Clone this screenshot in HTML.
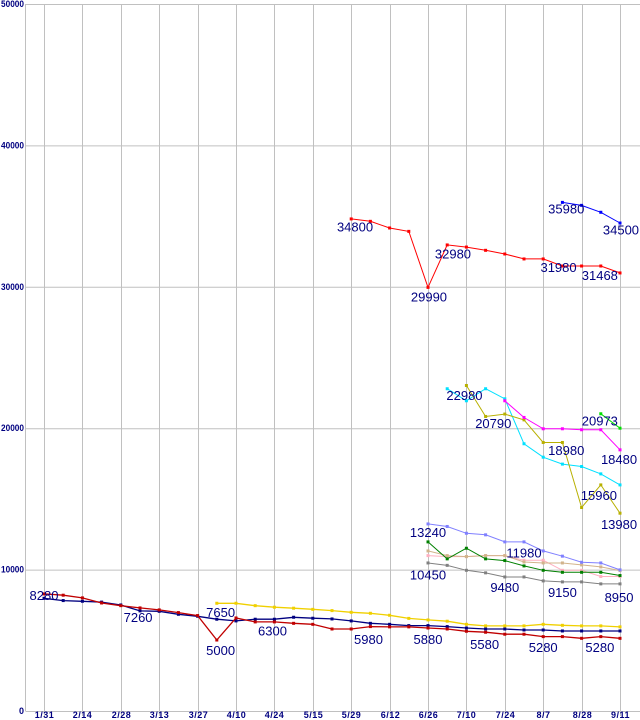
<!DOCTYPE html>
<html><head><meta charset="utf-8"><style>
body{margin:0;background:#fff;}
svg{display:block;font-family:"Liberation Sans",sans-serif;}
</style></head><body>
<svg id="chart" width="640" height="720" xmlns="http://www.w3.org/2000/svg">
<g id="grid"></g>
<g id="axes"></g>
<g id="series"></g>
<g id="labels"></g>
</svg>
<script>
const xTickLabels=["1/31","2/14","2/28","3/13","3/27","4/10","4/24","5/15","5/29","6/12","6/26","7/10","7/24","8/7","8/28","9/11"];
const yTicks=[0,10000,20000,30000,40000,50000];
const redLow=[8280,8190,8000,7640,7450,7290,7150,6960,6750,5020,6580,6300,6300,6200,6130,5800,5800,5970,5950,5950,5870,5800,5640,5570,5430,5430,5260,5260,5140,5260,5140];
const navyLow=[7970,7810,7760,7700,7500,7080,7050,6840,6700,6490,6370,6490,6490,6630,6560,6510,6370,6200,6130,6040,6040,5970,5870,5800,5800,5730,5730,5660,5660,5660,5660];
const yellow=[null,null,null,null,null,null,null,null,null,7620,7620,7450,7340,7270,7190,7100,6980,6910,6770,6550,6440,6350,6130,6020,6020,6020,6130,6060,6020,6020,5950];
const slateblue=[...Array(20).fill(null),13230,13050,12570,12460,11960,11960,11320,10950,10520,10470,9980];
const green=[...Array(20).fill(null),11960,10760,11510,10760,10640,10260,9950,9810,9810,9810,9580];
const tan=[...Array(20).fill(null),11320,10990,10920,10990,10990,10540,10470,10470,10330,10190,9930];
const pink=[...Array(20).fill(null),10990,10920,10920,10990,10990,10660,10660,9950,9950,9510,9510];
const gray=[...Array(20).fill(null),10470,10300,9950,9770,9480,9480,9200,9130,9130,8990,8990];
const cyan=[...Array(21).fill(null),22790,21940,22790,22080,18900,17950,17460,17290,16770,15990];
const olive=[...Array(22).fill(null),23020,20830,21000,20590,18990,18990,14390,15990,13990];
const magenta=[...Array(24).fill(null),21940,20760,19960,19960,19890,19890,18470];
const lime=[...Array(29).fill(null),21020,20000];
const redTop=[...Array(16).fill(null),34800,34630,34160,33920,29960,32960,32810,32580,32320,31970,31970,31470,31470,31470,30980];
const blueTop=[...Array(27).fill(null),35970,35760,35270,34510];
const labelText=["8280","7260","7650","5000","6300","34800","29990","32980","31980","35980","34500","31468","22980","20790","18980","20973","18480","15960","13980","13240","11980","10450","9480","9150","8950","5980","5880","5580","5280","5280"];
const labelIdx=[0,4.9,9.2,9.2,11.9,16.2,20.05,21.3,26.8,27.2,30.05,28.95,21.9,23.4,27.2,28.95,29.95,28.9,29.95,20,25,20,24,27,29.95,16.9,20,22.95,26,28.95];
const labelVal=[8560,7000,7350,4660,6030,34630,29670,32710,31760,35880,34420,31180,22710,20730,18800,20900,18180,15640,13590,13000,11570,10000,9140,8780,8420,5450,5450,5100,4890,4890];

const X0=44,DX=19.2,Y0=711,KY=(711-4)/50000;
const xs=i=>X0+i*DX;
const ys=v=>Y0-v*KY;
const NS="http://www.w3.org/2000/svg";
function mk(tag,attrs,parent){const e=document.createElementNS(NS,tag);for(const k in attrs)e.setAttribute(k,attrs[k]);parent.appendChild(e);return e;}
const grid=document.getElementById('grid'),axes=document.getElementById('axes'),ser=document.getElementById('series'),lab=document.getElementById('labels');
yTicks.forEach(v=>{
  const l=mk('line',{x1:25.5,x2:640,y1:ys(v)+0.5,y2:ys(v)+0.5,stroke:'#c0c0c0','stroke-width':1},grid);
  
  
  const s=String(v);
  const attrs={x:24,y:ys(v)+3,'text-anchor':'end','font-size':9,'font-weight':'bold',fill:'#000080'};
  if(s.length>1){attrs.textLength=Math.round(s.length*4.6);attrs.lengthAdjust='spacingAndGlyphs';}
  const t=mk('text',attrs,axes);
  t.textContent=s;
  
  
});
const la=mk('line',{x1:25.5,x2:25.5,y1:4,y2:711,stroke:'#c0c0c0'},grid);


xTickLabels.forEach((s,k)=>{
  const x=Math.round(xs(k*2))+0.5;
  const l=mk('line',{x1:x,x2:x,y1:4,y2:716,stroke:'#c0c0c0'},grid);
  
  
  const t=mk('text',{x:x,y:718,'text-anchor':'middle','font-size':9,'font-weight':'bold',fill:'#000080','letter-spacing':'0.5'},axes);
  t.textContent=s;
  
  
});
function draw(arr,color,name,w){
  const g=mk('g',{},ser);
  
  
  let d='';let pen=false;
  arr.forEach((v,i)=>{if(v==null){pen=false;return;}d+=(pen?'L':'M')+xs(i).toFixed(1)+' '+ys(v).toFixed(1)+' ';pen=true;});
  const p=mk('path',{d:d,fill:'none',stroke:color,'stroke-width':w||1},g);
  
  
  arr.forEach((v,i)=>{if(v==null)return;
    const r=mk('rect',{x:xs(i)-1.5,y:ys(v)-1.5,width:3,height:3,fill:color},g);
    
    
  });
}
draw(pink,'#ffb0c0','series-pink');
draw(tan,'#d2b48c','series-tan');
draw(gray,'#808080','series-gray');
draw(green,'#008000','series-green');
draw(slateblue,'#8080ff','series-slateblue');
draw(yellow,'#f0d000','series-yellow',1.3);
draw(navyLow,'#000080','series-navy',1.3);
draw(redLow,'#c00000','series-darkred',1.3);
draw(cyan,'#00e0ff','series-cyan');
draw(olive,'#b8b000','series-olive');
draw(magenta,'#ff00ff','series-magenta');
draw(lime,'#00e000','series-lime');
draw(redTop,'#ff0000','series-red-top');
draw(blueTop,'#0000ff','series-blue-top');
labelText.forEach((s,k)=>{
  const t=mk('text',{x:xs(labelIdx[k]),y:ys(labelVal[k])+10,'text-anchor':'middle','font-size':13,fill:'#000080'},lab);
  t.textContent=s;
  
  
});
</script>
</body></html>
